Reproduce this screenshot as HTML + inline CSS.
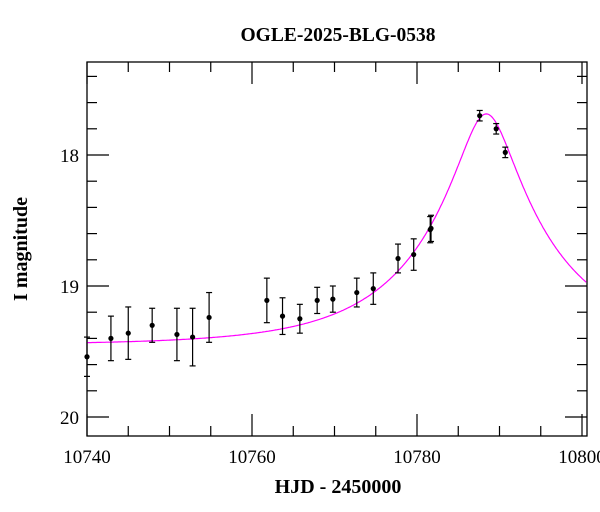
<!DOCTYPE html>
<html><head><meta charset="utf-8"><style>
body{margin:0;background:#fff}
svg{display:block;font-family:"Liberation Serif",serif}
</style></head><body>
<svg id="c" width="600" height="512"></svg>
<script>
const hjd=[10740.0,10742.9,10745.0,10747.9,10750.9,10752.8,10754.8,10761.8,10763.7,10765.8,10767.9,10769.8,10772.7,10774.7,10777.7,10779.6,10781.6,10781.7,10787.6,10789.6,10790.7];
const mags=[19.54,19.40,19.36,19.30,19.37,19.39,19.24,19.11,19.23,19.25,19.11,19.10,19.05,19.02,18.79,18.76,18.57,18.56,17.70,17.80,17.98];
const errs=[0.15,0.17,0.2,0.13,0.2,0.22,0.19,0.17,0.14,0.11,0.1,0.1,0.11,0.12,0.11,0.12,0.1,0.1,0.04,0.04,0.04];
const xTicks=[10740,10760,10780,10800];
const yTicks=[18,19,20];
const model={t0:10788.4,u0:0.2,tE:16,base:19.45};
const L=87,R=587,T=62,B=436;
const X=d=>L+(d-10740)*8.25;
const Y=m=>155+(m-18)*131;
const svg=document.getElementById('c');const NS='http://www.w3.org/2000/svg';
function mk(t,a,p){const e=document.createElementNS(NS,t);for(const k in a)e.setAttribute(k,a[k]);(p||svg).appendChild(e);return e;}
let fr=mk('rect',{x:L,y:T,width:R-L,height:B-T,fill:'none',stroke:'#000','stroke-width':1.3});


const tg=mk('g',{stroke:'#000','stroke-width':1.2});


for(let d=10740;d<=10800;d+=5){const x=X(d);if(x>R)break;const len=d%20==0?22:10;
 mk('line',{x1:x,y1:B,x2:x,y2:B-len},tg);mk('line',{x1:x,y1:T,x2:x,y2:T+len},tg);}
for(let i=0;i<=15;i++){const m=17.4+i*0.2;const y=Y(m);if(y<T||y>B)continue;const maj=Math.abs(m-Math.round(m))<0.01;const len=maj?22:10;
 mk('line',{x1:L,y1:y,x2:L+len,y2:y},tg);mk('line',{x1:R,y1:y,x2:R-len,y2:y},tg);}
xTicks.forEach(v=>{const t=mk('text',{x:X(v),y:463,'font-size':19,'text-anchor':'middle'});t.textContent=v;
 
 });
yTicks.forEach(v=>{const t=mk('text',{x:79,y:Y(v)+7,'font-size':19,'text-anchor':'end'});t.textContent=v;
 
 });
let pts=[];for(let d=10740;d<=10800.6;d+=0.1){const tau=(d-model.t0)/model.tE;const u=Math.sqrt(tau*tau+model.u0*model.u0);const A=(u*u+2)/(u*Math.sqrt(u*u+4));pts.push(X(d).toFixed(1)+','+Y(model.base-2.5*Math.log10(A)).toFixed(1));}
const cv=mk('polyline',{points:pts.join(' '),fill:'none',stroke:'#ff00ff','stroke-width':1.2});


hjd.forEach((d,i)=>{const g=mk('g',{});
 
 
 const x=X(d),y=Y(mags[i]),y1=Y(mags[i]-errs[i]),y2=Y(mags[i]+errs[i]);
 mk('line',{x1:x,y1:y1,x2:x,y2:y2,stroke:'#000','stroke-width':1.2},g);
 mk('line',{x1:x-3,y1:y1,x2:x+3,y2:y1,stroke:'#000','stroke-width':1.2},g);
 mk('line',{x1:x-3,y1:y2,x2:x+3,y2:y2,stroke:'#000','stroke-width':1.2},g);
 mk('circle',{cx:x,cy:y,r:2.6,fill:'#000'},g);});
let t=mk('text',{x:338,y:41,'font-size':19.5,'font-weight':'bold','text-anchor':'middle'});t.textContent='OGLE-2025-BLG-0538';


t=mk('text',{x:338,y:493,'font-size':20,'font-weight':'bold','text-anchor':'middle'});t.textContent='HJD - 2450000';


t=mk('text',{x:27,y:249,'font-size':20,'font-weight':'bold','text-anchor':'middle',transform:'rotate(-90 27 249)'});t.textContent='I magnitude';


</script>
</body></html>
